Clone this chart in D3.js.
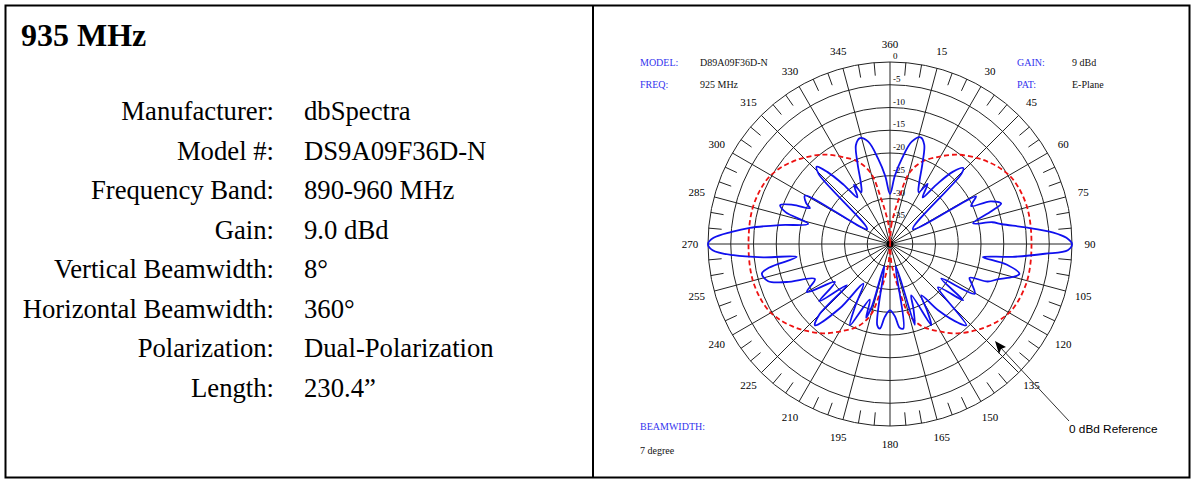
<!DOCTYPE html>
<html>
<head>
<meta charset="utf-8">
<script src="https://cdnjs.cloudflare.com/ajax/libs/d3/7.8.5/d3.min.js"></script>
<style>
body { margin: 0; background: #fff; }
</style>
</head>
<body>
<script>
// left panel
const title = "935 MHz";
const specLabels = ["Manufacturer:", "Model #:", "Frequency Band:", "Gain:", "Vertical Beamwidth:",
    "Horizontal Beamwidth:", "Polarization:", "Length:"];
const specValues = ["dbSpectra", "DS9A09F36D-N", "890-960 MHz", "9.0 dBd", "8°", "360°",
    "Dual-Polarization", "230.4”"];

// polar plot
const angleTicks = [0, 15, 30, 45, 60, 75, 90, 105, 120, 135, 150, 165, 180, 195, 210, 225, 240, 255, 270, 285, 300, 315, 330, 345];
const angleLabels = ["360", "15", "30", "45", "60", "75", "90", "105", "120", "135", "150", "165", "180", "195", "210", "225", "240", "255", "270", "285", "300", "315", "330", "345"];
const dbTicks = [0, -5, -10, -15, -20, -25, -30, -35];

// measured E-plane pattern (deg, dB)
const patternAngle = [0, 4, 8, 12, 16, 19, 22, 26, 29, 32, 35, 38, 41, 44, 45.5, 57, 61, 63, 65, 67, 70, 72, 76, 78, 80, 83, 86, 88,
    90, 92, 93.6, 96, 98, 100, 103, 105, 108, 111, 113, 116, 120.4, 124, 127.6, 132, 136.8, 139, 144, 148.6, 151, 153, 157.5, 160, 163, 165.5, 171, 173.5, 176,
    180, 184, 186.8, 189, 194.5, 196.2, 198, 200, 206.2, 209, 213.9, 218, 222.7, 225, 226.3, 231, 235.4, 240, 245, 249.8, 253, 257, 259, 262.1, 264, 265.9, 268,
    270, 272, 274.4, 276.6, 279.8, 283.8, 287, 289.5, 292, 294.1, 296, 299.6, 303, 314.5, 316.5, 319, 322, 325, 328.7, 331, 334, 338, 341, 344.2, 348, 352, 356];
const patternDb = [-29, -25, -21, -17, -15.6, -16.9, -21, -25.5, -27, -24.4, -27.5, -23.5, -19, -16.8, -18, -34, -18.4, -19.5, -20.3, -16, -14, -16.5, -21.2, -17, -15, -10, -4, -1.2,
    0, -0.9, -5.9, -13, -19.4, -14, -10.8, -12, -15, -17, -21, -20, -18.4, -26.4, -19.7, -25.8, -15.5, -17, -22, -26.8, -23, -20, -27.8, -25, -21.4, -35, -21.2, -21.5, -24,
    -25.4, -24, -21.3, -22, -35, -25.6, -23, -27, -20.1, -24, -29.5, -22, -15.7, -18, -26.9, -20, -25.3, -18.9, -21.8, -15.8, -12, -11.1, -13, -19.3, -12, -5.5, -1,
    0, -1.2, -5.1, -9, -15.5, -21.5, -16, -14.4, -17, -20.7, -19.5, -18.5, -34, -18, -16.6, -19, -23.5, -27.5, -24.8, -27, -25.5, -21, -17, -15.8, -17, -21, -25];

// 0 dBd reference dipole (deg, dB)
const refAngle = [0, 4, 8, 11, 15, 21, 29, 37, 45, 50, 56, 63, 75, 90, 105, 117, 124, 130, 135, 143, 151, 159, 165, 169, 172, 176,
    180, 184, 188, 191, 195, 201, 209, 217, 225, 230, 236, 243, 255, 270, 285, 297, 304, 310, 315, 323, 331, 339, 345, 349, 352, 356];
const refDb = [-40, -36, -33, -30, -24, -20.7, -18.1, -15.4, -13.2, -11.9, -10.5, -9.4, -8.8, -8.9, -8.8, -9.4, -10.5, -11.9, -13.2, -15.4, -18.1, -20.7, -24, -30, -33, -36,
    -40, -36, -33, -30, -24, -20.7, -18.1, -15.4, -13.2, -11.9, -10.5, -9.4, -8.8, -8.9, -8.8, -9.4, -10.5, -11.9, -13.2, -15.4, -18.1, -20.7, -24, -30, -33, -36];

const W = 1195, H = 479;
const svg = d3.select("body").append("svg")
    .attr("width", W)
    .attr("height", H);

// frame
svg.append("rect")
    .attr("x", 5.5).attr("y", 5.5)
    .attr("width", 1184).attr("height", 472)
    .attr("fill", "none").attr("stroke", "#000").attr("stroke-width", 2);
svg.append("line")
    .attr("x1", 593).attr("x2", 593).attr("y1", 5).attr("y2", 478)
    .attr("stroke", "#000").attr("stroke-width", 2);

// left panel text
svg.append("text")
    .attr("x", 21).attr("y", 46)
    .attr("font-family", "Liberation Serif, Times New Roman, serif")
    .attr("font-weight", "bold")
    .attr("font-size", 32)
    .text(title);

const rowY = d3.scalePoint().domain(specLabels).range([120, 397]);
const spec = svg.append("g")
    .attr("font-family", "Liberation Serif, Times New Roman, serif")
    .attr("font-size", 26.7);
spec.selectAll("text.lab")
    .data(specLabels)
    .enter()
    .append("text")
    .attr("class", "lab")
    .attr("x", 274)
    .attr("y", d => rowY(d))
    .attr("text-anchor", "end")
    .text(d => d);
spec.selectAll("text.val")
    .data(specValues)
    .enter()
    .append("text")
    .attr("class", "val")
    .attr("x", 304)
    .attr("y", (d, i) => rowY(specLabels[i]))
    .text(d => d);

// polar chart
const cx = 890, cy = 244, R = 182;
const r = d3.scaleLinear().domain([-40, 0]).range([0, R]).clamp(true);
const rad = a => a * Math.PI / 180;

const g = svg.append("g").attr("transform", `translate(${cx}, ${cy})`);

g.selectAll("circle.ring")
    .data(dbTicks)
    .enter()
    .append("circle")
    .attr("class", "ring")
    .attr("r", d => r(d))
    .attr("fill", "none")
    .attr("stroke", "#222")
    .attr("stroke-width", 1);

g.selectAll("line.spoke")
    .data(angleTicks)
    .enter()
    .append("line")
    .attr("class", "spoke")
    .attr("x1", 0).attr("y1", 0)
    .attr("x2", d => R * Math.sin(rad(d)))
    .attr("y2", d => -R * Math.cos(rad(d)))
    .attr("stroke", "#222")
    .attr("stroke-width", 1);

// minor ticks every 5 degrees
const minor = d3.range(0, 360, 5).filter(a => a % 15 !== 0);
g.selectAll("line.minor")
    .data(minor)
    .enter()
    .append("line")
    .attr("class", "minor")
    .attr("x1", d => R * Math.sin(rad(d)))
    .attr("y1", d => -R * Math.cos(rad(d)))
    .attr("x2", d => (R - 13) * Math.sin(rad(d)))
    .attr("y2", d => -(R - 13) * Math.cos(rad(d)))
    .attr("stroke", "#222")
    .attr("stroke-width", 1);

g.append("circle").attr("r", 3.5).attr("fill", "#000");

g.selectAll("text.ang")
    .data(angleTicks)
    .enter()
    .append("text")
    .attr("class", "ang")
    .attr("x", d => 200 * Math.sin(rad(d)))
    .attr("y", d => -200 * Math.cos(rad(d)))
    .attr("dy", "0.35em")
    .attr("text-anchor", "middle")
    .attr("font-family", "Liberation Serif, Times New Roman, serif")
    .attr("font-size", 11)
    .text((d, i) => angleLabels[i]);

g.selectAll("text.db")
    .data(dbTicks)
    .enter()
    .append("text")
    .attr("class", "db")
    .attr("x", 3)
    .attr("y", d => -r(d) - 3)
    .attr("font-family", "Liberation Serif, Times New Roman, serif")
    .attr("font-size", 9)
    .text(d => d);

const ref = refAngle.map((a, i) => ({a: a, db: refDb[i]}));
const pat = patternAngle.map((a, i) => ({a: a, db: patternDb[i]}));

const radial = d3.lineRadial()
    .angle(d => rad(d.a))
    .radius(d => r(d.db));

g.append("path")
    .attr("d", radial.curve(d3.curveCatmullRomClosed.alpha(0.5))(ref))
    .attr("fill", "none")
    .attr("stroke", "#ee1111")
    .attr("stroke-width", 1.8)
    .attr("stroke-dasharray", "5,3");

g.append("path")
    .attr("d", radial.curve(d3.curveCatmullRomClosed.alpha(0.5))(pat))
    .attr("fill", "none")
    .attr("stroke", "#1010ee")
    .attr("stroke-width", 1.8);

// header / footer info
const info = svg.append("g")
    .attr("font-family", "Liberation Serif, Times New Roman, serif")
    .attr("font-size", 10);
const infoKeys = ["MODEL:", "FREQ:", "GAIN:", "PAT:", "BEAMWIDTH:"];
const infoVals = ["D89A09F36D-N", "925 MHz", "9 dBd", "E-Plane", "7 degree"];
const keyPos = [[640, 66], [640, 88], [1017, 66], [1017, 88], [640, 430]];
const valPos = [[700, 66], [700, 88], [1072, 66], [1072, 88], [640, 454]];
info.selectAll("text.k")
    .data(infoKeys)
    .enter()
    .append("text")
    .attr("x", (d, i) => keyPos[i][0])
    .attr("y", (d, i) => keyPos[i][1])
    .attr("fill", "#3333ee")
    .text(d => d);
info.selectAll("text.v")
    .data(infoVals)
    .enter()
    .append("text")
    .attr("x", (d, i) => valPos[i][0])
    .attr("y", (d, i) => valPos[i][1])
    .attr("fill", "#111")
    .text(d => d);

// reference callout
svg.append("line")
    .attr("x1", 1069).attr("y1", 421)
    .attr("x2", 1000).attr("y2", 347)
    .attr("stroke", "#333").attr("stroke-width", 1);
svg.append("path")
    .attr("d", "M995,341 L1006,347 L1001,349 L999,354 Z")
    .attr("fill", "#000");
svg.append("text")
    .attr("x", 1069).attr("y", 433)
    .attr("font-family", "Liberation Sans, Arial, sans-serif")
    .attr("font-size", 11.8)
    .text("0 dBd Reference");
</script>
</body>
</html>
